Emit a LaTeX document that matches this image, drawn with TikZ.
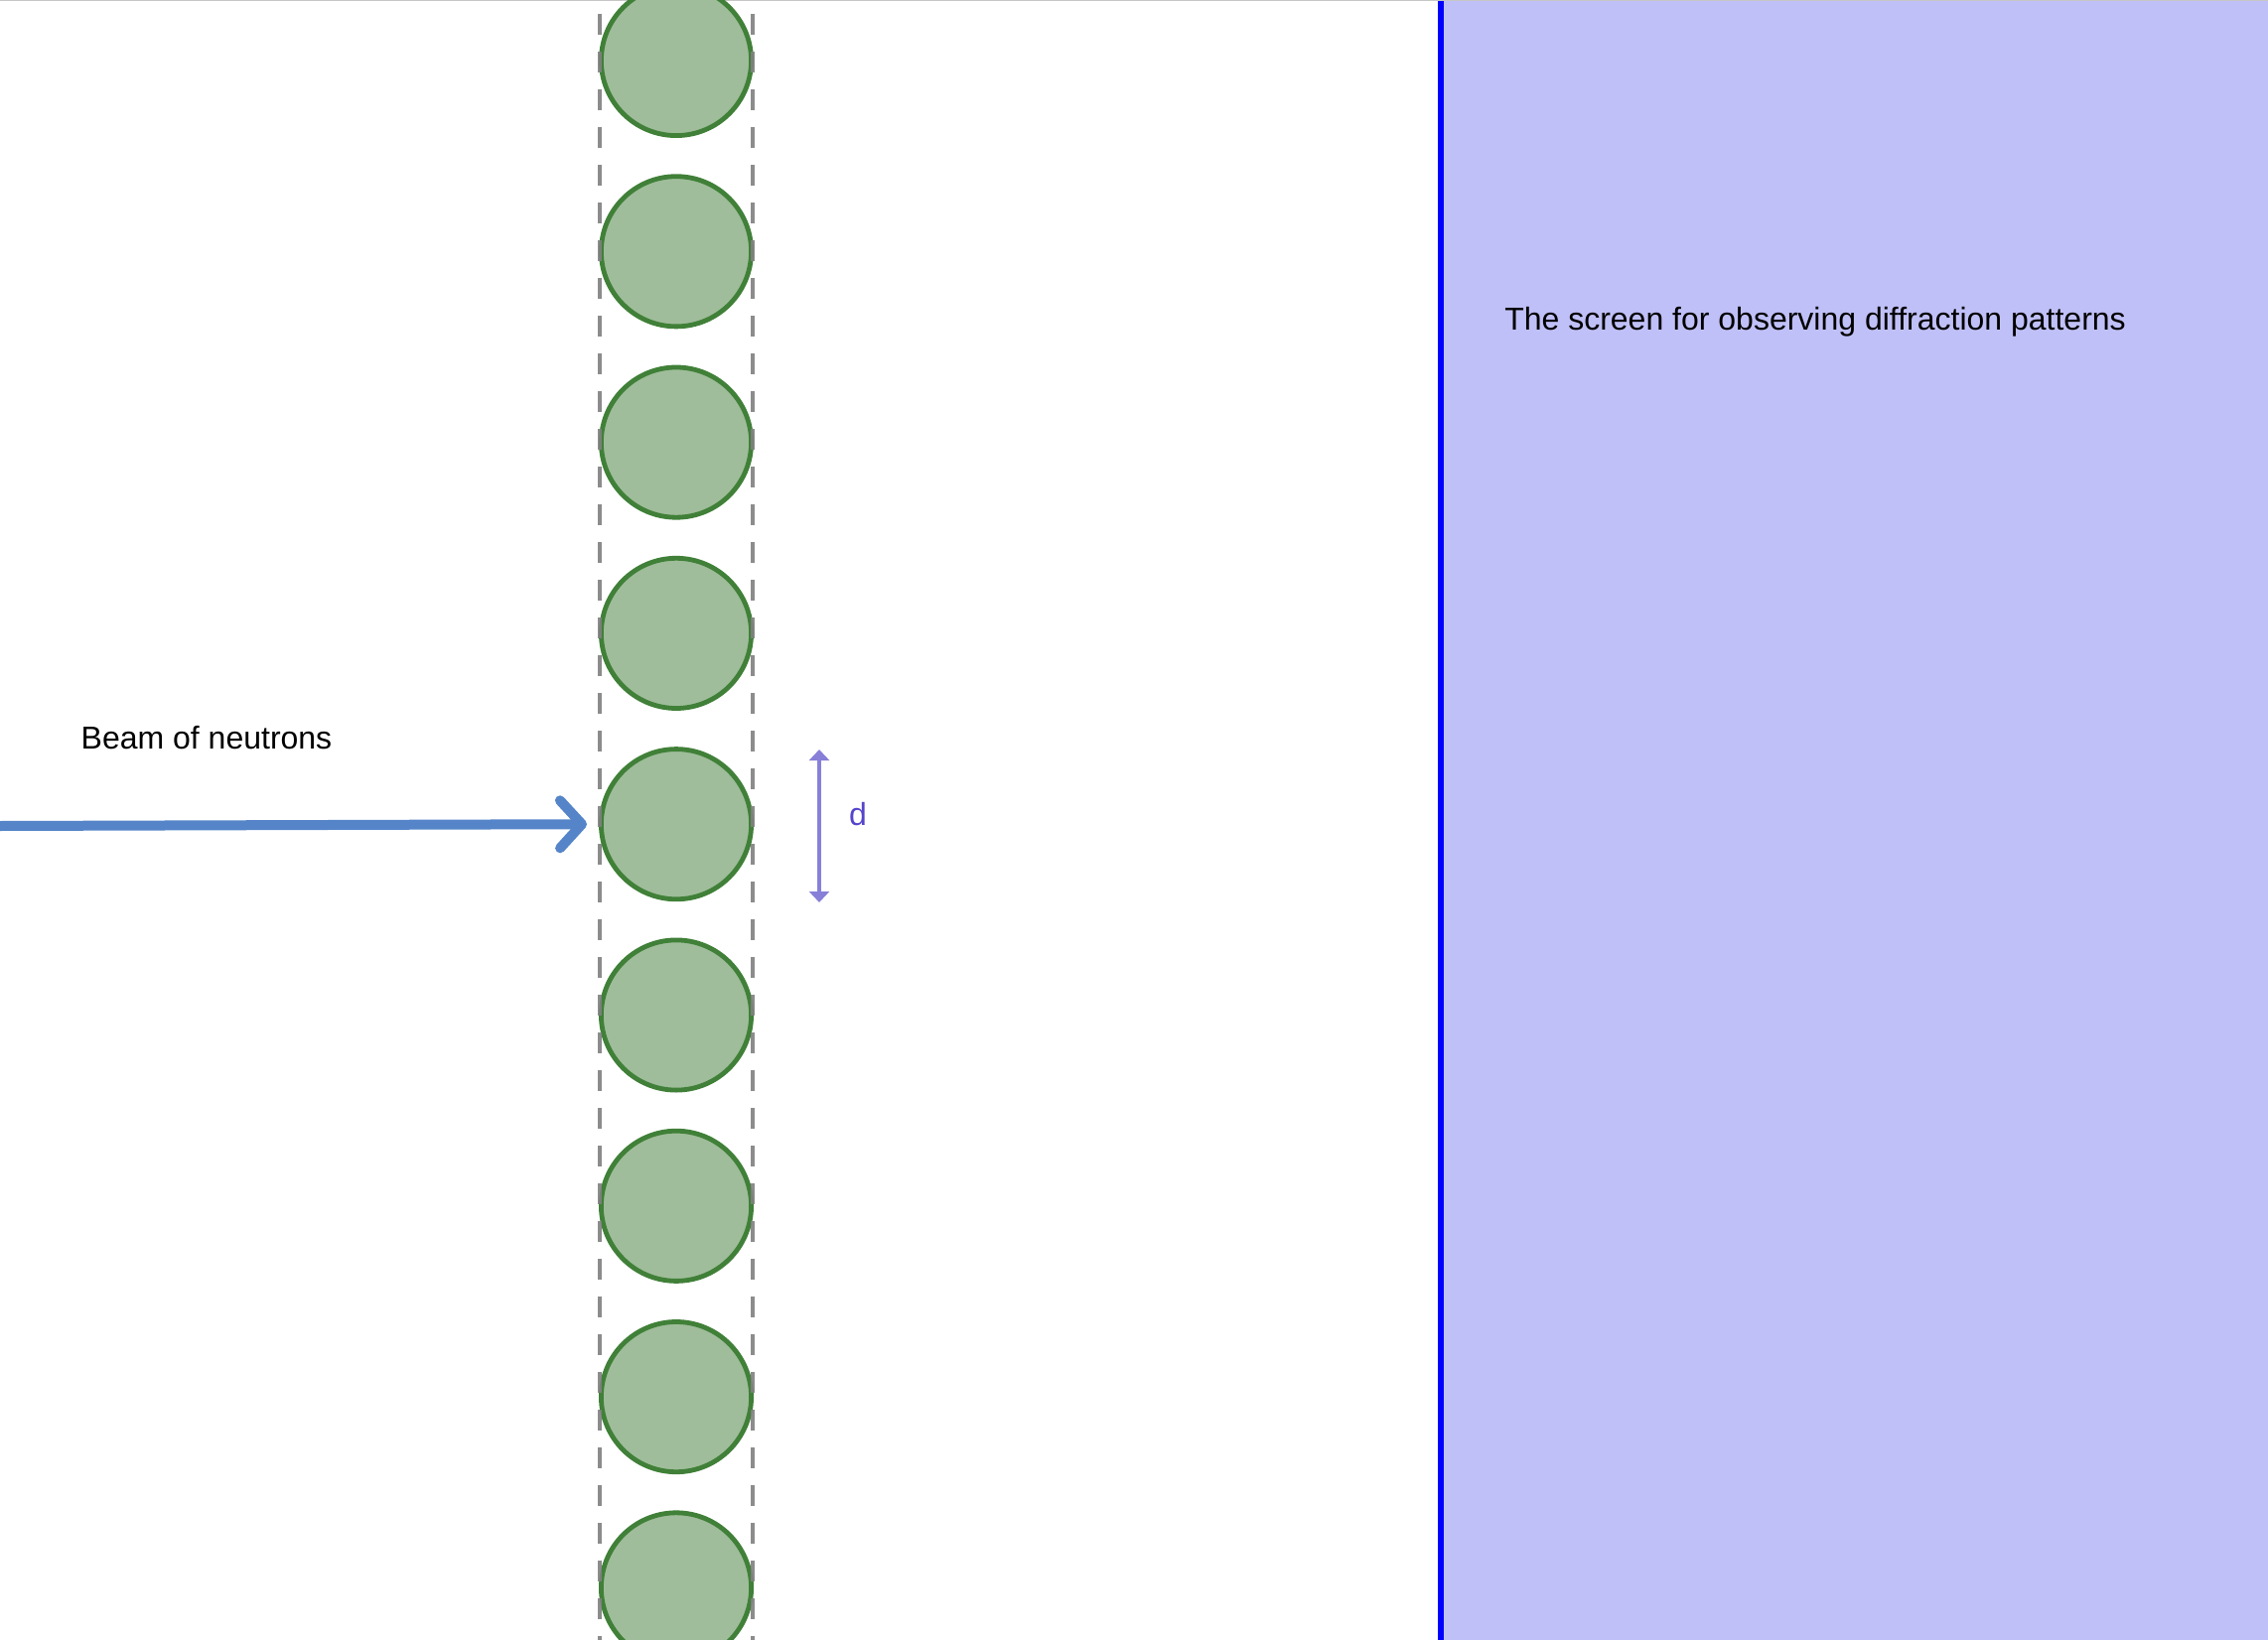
\documentclass[tikz,border=0pt]{standalone}
\usepackage{fontspec}
\setmainfont{Liberation Sans}
\usetikzlibrary{arrows.meta}
\usetikzlibrary{positioning}
\definecolor{atomfill}{RGB}{159,189,154}
\definecolor{atomedge}{RGB}{64,128,56}
\definecolor{beamblue}{RGB}{85,133,200}
\definecolor{screenfill}{RGB}{192,192,248}
\definecolor{dpurple}{RGB}{136,128,216}
\definecolor{dtext}{RGB}{85,68,204}
\tikzstyle{atom} = [circle, draw=atomedge, fill=atomfill, line width=2.4pt,
 minimum size=75.6pt, inner sep=0pt]
\tikzstyle{gridline} = [draw=gray, draw opacity=0.9, line width=2.2pt,
 dash pattern=on 10.5pt off 8.5pt, dash phase=12pt]
\tikzstyle{beam} = [draw=beamblue, line width=5pt, line cap=round,
 -{Straight Barb[length=11pt, width=24pt, round]}]
\tikzstyle{spacing} = [draw=dpurple, line width=1.7pt,
 {Triangle[width=10pt,length=5.5pt]}-{Triangle[width=10pt,length=5.5pt]}]
\tikzstyle{txt} = [font=\fontsize{16}{19}\selectfont, inner sep=0pt]

\begin{document}
\begin{tikzpicture}[x=0.5pt, y=-0.5pt]
	\useasboundingbox (0,0) rectangle (2284,1652);
	\clip (0,0) rectangle (2284,1652);
	
	% screen
	\fill [screenfill] (1451,0) rectangle (2284,1652);
	\coordinate (s1) at (1451,0);
	\coordinate (s2) at (1451,1652);
	\draw [blue, line width=2.6pt] (s1) -- (s2);
	\draw [gray!45, line width=1.5pt] (0,0) -- (2284,0);
	
	% row of atoms
	\foreach \i in {0,...,8}
		\node [atom] (a\i) at (681, 61+192.3*\i) {};
	
	\coordinate (l1) at (604,0);
	\coordinate (l2) at (604,1652);
	\coordinate (r1) at (758,0);
	\coordinate (r2) at (758,1652);
	\draw [gridline] (l1) -- (l2);
	\draw [gridline] (r1) -- (r2);
	
	% beam
	\coordinate (src) at (0,832);
	\draw [beam] (src) -- ([xshift=-6pt]a4.west);
	\node [txt] (beamlabel) at (208,743) {Beam of neutrons};
	
	% spacing d
	\coordinate (dtop) at (825,755);
	\coordinate (dbot) at (825,909);
	\draw [spacing] (dtop) -- (dbot);
	\node [txt, text=dtext] (dlabel) at (864,820) {d};
	
	\node [txt] (screenlabel) at (1828,324) {The screen for observing diffraction patterns};
	
\end{tikzpicture}
\end{document}
